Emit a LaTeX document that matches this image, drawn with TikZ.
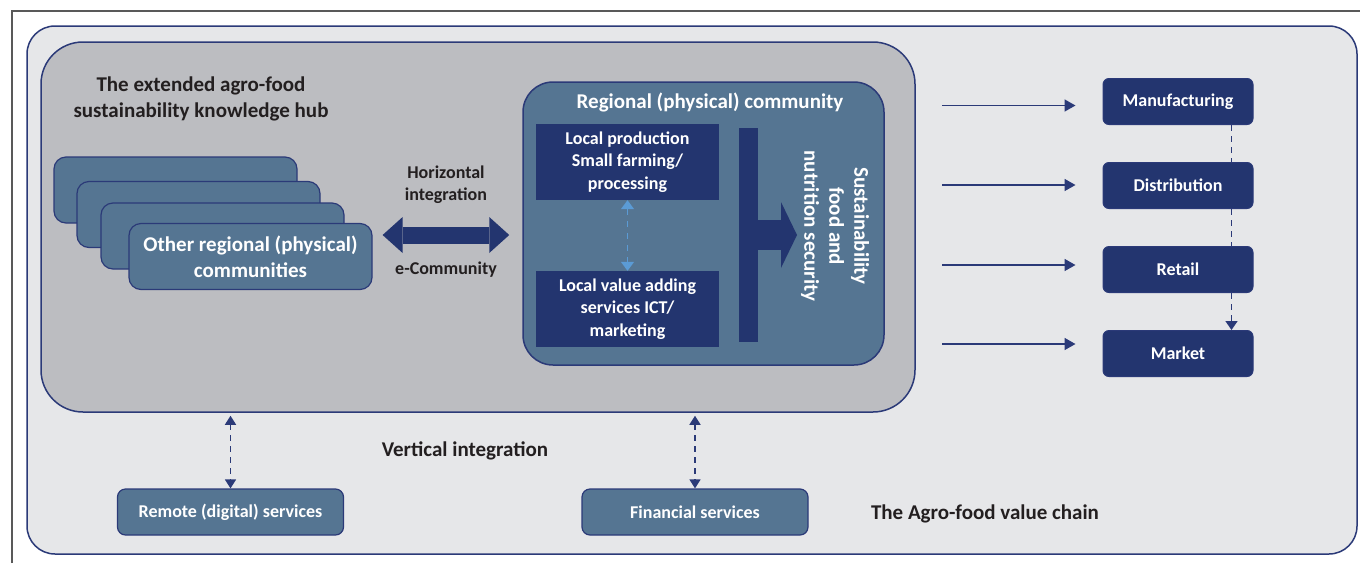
\documentclass[tikz,border=0pt]{standalone}
\usepackage{fontspec}
\setmainfont{Carlito}
\usetikzlibrary{arrows.meta,positioning}

\definecolor{chainbg}{HTML}{E6E7E9}
\definecolor{hubbg}{HTML}{BCBDC1}
\definecolor{steel}{HTML}{557592}
\definecolor{navy}{HTML}{23356F}
\definecolor{navyline}{HTML}{2B3A78}
\definecolor{ink}{HTML}{231F20}
\definecolor{lblue}{HTML}{5B9BD5}

\begin{document}
\begin{tikzpicture}
[
    x=1pt, y=-1pt,
    big/.style={font=\fontsize{21}{26}\selectfont\bfseries},
    small/.style={font=\fontsize{18}{22.5}\selectfont\bfseries},
    stackbox/.style={draw=navyline, fill=steel, line width=1.2pt, rounded corners=12pt,
        minimum width=243pt, minimum height=66pt},
    darkbox/.style={fill=navy, text=white, align=center, small,
        minimum width=183pt, minimum height=76pt},
    chainbox/.style={draw=navyline, fill=navy, line width=1pt, rounded corners=6pt, text=white, small,
        minimum width=150pt, minimum height=46pt},
    servicebox/.style={draw=navyline, fill=steel, line width=1.2pt, rounded corners=8pt, text=white, small,
        minimum width=226pt, minimum height=46pt},
    label/.style={text=ink, align=center},
    harrow/.style={navy, line width=17pt,
        {Triangle[length=20pt,width=36pt,line width=0pt]}-{Triangle[length=20pt,width=36pt,line width=0pt]}},
    barrow/.style={navy, line width=30pt, -{Triangle[length=16pt,width=66pt,line width=0pt]}},
    flow/.style={navyline, line width=1.6pt, -{Triangle[length=11pt,width=12pt]}},
    cdash/.style={navyline, line width=1.5pt, dash pattern=on 6pt off 5pt},
    vdash/.style={cdash, {Triangle[length=9pt,width=11pt]}-{Triangle[length=9pt,width=11pt]}},
    ldash/.style={lblue, line width=1.5pt, dash pattern=on 6pt off 6pt,
        {Triangle[length=9pt,width=13pt]}-{Triangle[length=9pt,width=13pt]}},
]
\useasboundingbox (0,0) rectangle (1360,563);
\fill[white] (0,0) rectangle (1360,563);
\draw[black!65, line width=1.2pt] (12,563) -- (12,11) -- (1360,11);

% containers
\node[draw=navyline, fill=chainbg, line width=1.5pt, rounded corners=28pt,
    minimum width=1330pt, minimum height=528pt] (chain) at (692,290) {};
\node[draw=navyline, fill=hubbg, line width=1.5pt, rounded corners=42pt,
    minimum width=874pt, minimum height=370pt] (hub) at (478,227) {};
\node[label, big] (hubtitle) at (201,99) {The extended agro-food\\sustainability knowledge hub};

% other communities, stacked
\foreach \x/\y/\n in {175.5/190/st1, 198.5/214.5/st2, 222.5/236/st3}
    \node[stackbox] (\n) at (\x,\y) {};
\node[stackbox, text=white, big, align=center] (other) at (250.5,256.5) {Other regional (physical)\\communities};

% regional community
\node[draw=navyline, fill=steel, line width=1.5pt, rounded corners=30pt,
    minimum width=361pt, minimum height=283pt] (region) at (703.5,223.5) {};
\node[big, text=white] (regtitle) at (710,102) {Regional (physical) community};
\node[darkbox] (lp) at (627.5,162) {Local production\\Small farming/\\processing};
\node[darkbox] (lv) at (627.5,309) {Local value adding\\services ICT/\\marketing};
\draw[ldash] (lp.south) -- (lv.north);
\node[fill=navy, inner sep=0pt, minimum width=19pt, minimum height=214pt] (bar) at (748.5,235) {};
\node[font=\fontsize{21}{25}\selectfont\bfseries, text=white, align=center, rotate=-90] (sfns) at (835,226)
    {Sustainability\\food and\\nutrition security};
\coordinate (sftip) at (797,235);
\draw[barrow] (bar.east |- sftip) -- (sftip);

% horizontal integration
\coordinate (hmid) at (446,235);
\draw[harrow, shorten <=10pt, shorten >=13pt] (other.east |- hmid) -- (region.west |- hmid);
\node[label, small] (hint) at (446,184.5) {Horizontal\\integration};
\node[label, small] (ecom) at (446,270) {e-Community};

% value chain
\node[chainbox] (mf) at (1178,101.5) {Manufacturing};
\node[chainbox, below=37pt of mf] (ds) {Distribution};
\node[chainbox, below=37pt of ds] (rt) {Retail};
\node[chainbox, below=37pt of rt] (mk) {Market};
\draw[cdash] ([xshift=-22pt]mf.south east) -- ([xshift=-22pt]ds.north east);
\draw[cdash] ([xshift=-22pt]ds.south east) -- ([xshift=-22pt]rt.north east);
\draw[cdash, -{Triangle[length=9pt,width=12pt]}] ([xshift=-22pt]rt.south east) -- ([xshift=-22pt]mk.north east);
\foreach \b/\y [count=\i] in {mf/105.5, ds/185, rt/265, mk/344} {
    \coordinate (s\i) at (942,\y);
    \draw[flow, shorten >=27pt] (s\i) -- (s\i -| \b.west);
}

% vertical integration
\node[servicebox] (remote) at (230.5,512) {Remote (digital) services};
\node[servicebox] (fin) at (695,512) {Financial services};
\draw[vdash, shorten <=3pt] (remote.north |- hub.south) -- (remote.north);
\draw[vdash, shorten <=3pt] (fin.north |- hub.south) -- (fin.north);
\node[label, big] (vint) at (465,451) {Vertical integration};
\node[label, big] (vchain) at (985,514) {The Agro-food value chain};
\end{tikzpicture}
\end{document}
